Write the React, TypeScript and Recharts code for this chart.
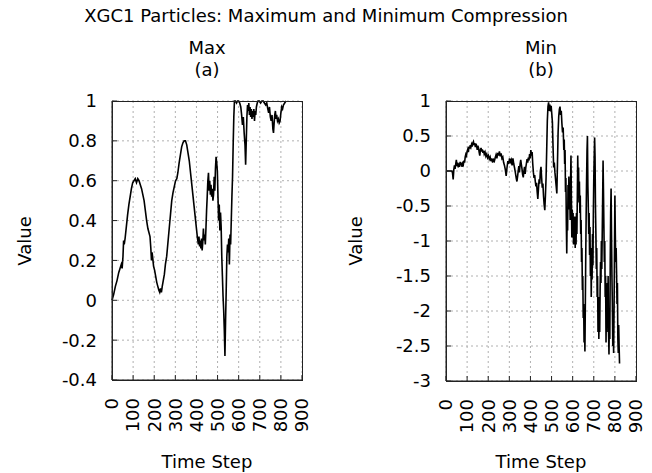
import { LineChart, Line, XAxis, YAxis, CartesianGrid } from "recharts";

const timeTicks = [0, 100, 200, 300, 400, 500, 600, 700, 800, 900];
const maxTicks = [-0.4, -0.2, 0, 0.2, 0.4, 0.6, 0.8, 1];
const minTicks = [-3, -2.5, -2, -1.5, -1, -0.5, 0, 0.5, 1];

// Max compression (a)
const maxSteps = [
  0, 8, 16, 24, 32, 38, 44, 48, 52, 55, 58, 62, 68, 74, 80, 86, 92, 98, 104, 110,
  116, 122, 128, 134, 140, 146, 152, 158, 164, 170, 175, 180, 184, 187, 190, 193, 197, 202, 207, 212,
  217, 222, 226, 230, 234, 238, 243, 248, 253, 259, 265, 271, 277, 283, 289, 295, 301, 307, 312, 318,
  324, 330, 336, 342, 348, 354, 360, 366, 372, 378, 384, 390, 396, 401, 405, 409, 412, 415, 418, 421,
  424, 427, 430, 433, 436, 439, 442, 445, 448, 451, 454, 457, 460, 463, 466, 469, 472, 475, 478, 481,
  484, 487, 490, 493, 496, 499, 502, 505, 508, 511, 514, 517, 520, 523, 526, 529, 532, 535, 538, 541,
  544, 547, 550, 553, 556, 559, 562, 565, 568, 571, 574, 577, 580, 585, 590, 595, 600, 605, 610, 614,
  618, 622, 626, 630, 633, 636, 639, 642, 645, 648, 651, 654, 657, 660, 663, 666, 669, 672, 675, 678,
  681, 684, 688, 692, 698, 704, 710, 716, 722, 728, 733, 738, 742, 746, 750, 754, 758, 762, 765, 768,
  771, 774, 777, 780, 784, 788, 792, 796, 800, 804, 808, 812, 818, 824,
];
const maxValues = [
  0.0, 0.03, 0.07, 0.1, 0.14, 0.16, 0.18, 0.16, 0.22, 0.3, 0.28, 0.31, 0.37, 0.43, 0.48, 0.52, 0.56, 0.59, 0.6, 0.61,
  0.59, 0.61, 0.6, 0.58, 0.56, 0.53, 0.5, 0.45, 0.4, 0.36, 0.34, 0.32, 0.26, 0.2, 0.24, 0.21, 0.17, 0.15, 0.12, 0.09,
  0.07, 0.05, 0.04, 0.06, 0.04, 0.07, 0.1, 0.13, 0.18, 0.22, 0.29, 0.36, 0.43, 0.5, 0.54, 0.57, 0.6, 0.61, 0.64, 0.69,
  0.73, 0.77, 0.79, 0.8, 0.8, 0.78, 0.74, 0.7, 0.64, 0.58, 0.52, 0.46, 0.4, 0.35, 0.31, 0.28, 0.32, 0.27, 0.3, 0.26,
  0.31, 0.25, 0.29, 0.36, 0.3, 0.33, 0.28, 0.36, 0.45, 0.52, 0.6, 0.64, 0.55, 0.6, 0.53, 0.58, 0.52, 0.56, 0.5, 0.53,
  0.62, 0.55, 0.66, 0.72, 0.69, 0.65, 0.52, 0.4, 0.48, 0.35, 0.44, 0.37, 0.22, 0.12, 0.02, -0.05, -0.15, -0.28, -0.1, 0.05,
  0.22, 0.28, 0.24, 0.31, 0.18, 0.33, 0.28, 0.4, 0.52, 0.62, 0.78, 0.92, 1.0, 1.0, 0.99, 1.0, 1.0, 0.99, 0.97, 0.93,
  0.88, 0.92, 0.84, 0.78, 0.68, 0.8, 0.92, 0.98, 0.95, 0.99, 0.93, 0.97, 0.92, 0.96, 0.91, 0.95, 0.92, 0.96, 0.9, 0.95,
  0.93, 0.97, 0.99, 1.0, 1.0, 0.99, 1.0, 1.0, 0.99, 0.98, 0.99, 0.96, 0.94, 0.97, 0.92, 0.9, 0.93, 0.86, 0.84, 0.89,
  0.93, 0.95, 0.91, 0.93, 0.9, 0.91, 0.89, 0.9, 0.94, 0.97, 0.96, 0.98, 0.99, 1.0,
];

// Min compression (b)
const minSteps = [
  0, 10, 20, 28, 31, 34, 37, 40, 43, 46, 49, 52, 55, 58, 61, 64, 67, 70, 73, 76,
  79, 82, 85, 88, 91, 94, 97, 100, 103, 106, 109, 112, 115, 118, 121, 124, 127, 130, 133, 136,
  139, 142, 145, 148, 151, 154, 157, 160, 163, 166, 169, 172, 175, 178, 181, 185, 189, 193, 197, 201,
  205, 209, 213, 217, 221, 225, 229, 233, 237, 241, 245, 249, 253, 257, 261, 265, 269, 273, 277, 281,
  285, 289, 293, 297, 301, 305, 309, 313, 317, 321, 325, 329, 333, 336, 339, 342, 345, 348, 351, 354,
  357, 360, 363, 366, 369, 372, 375, 378, 381, 384, 387, 390, 393, 396, 399, 402, 405, 408, 411, 414,
  417, 420, 423, 426, 429, 432, 435, 438, 441, 444, 447, 450, 453, 456, 459, 462, 465, 468, 471, 474,
  477, 480, 483, 486, 489, 492, 495, 498, 501, 504, 507, 510, 513, 516, 519, 522, 525, 528, 531, 534,
  537, 540, 543, 546, 549, 552, 555, 558, 560, 562, 564, 566, 568, 570, 572, 574, 576, 578, 580, 582,
  584, 586, 588, 590, 592, 594, 596, 598, 600, 602, 604, 606, 608, 610, 612, 614, 616, 618, 620, 622,
  624, 626, 628, 630, 632, 634, 636, 638, 640, 642, 644, 646, 648, 650, 652, 654, 656, 658, 660, 662,
  664, 666, 668, 670, 672, 674, 676, 678, 680, 682, 684, 686, 688, 690, 692, 694, 696, 698, 700, 702,
  704, 706, 708, 710, 712, 714, 716, 718, 720, 722, 724, 726, 728, 730, 732, 734, 736, 738, 740, 742,
  744, 746, 748, 750, 752, 754, 756, 758, 760, 762, 764, 766, 768, 770, 772, 774, 776, 778, 780, 782,
  784, 786, 788, 790, 792, 794, 796, 798, 800, 802, 804, 806, 808, 810, 812, 814, 816, 818, 820, 822,
];
const minValues = [
  0.0, 0.0, 0.0, 0.0, -0.03, -0.12, 0.02, 0.08, 0.03, 0.1, 0.16, 0.07, 0.12, 0.05, 0.11, 0.06, 0.13, 0.08, 0.12, 0.06,
  0.11, 0.09, 0.15, 0.12, 0.2, 0.24, 0.22, 0.28, 0.31, 0.27, 0.35, 0.32, 0.37, 0.34, 0.38, 0.35, 0.4, 0.42, 0.37, 0.4,
  0.34, 0.39, 0.36, 0.3, 0.36, 0.33, 0.27, 0.22, 0.3, 0.33, 0.28, 0.31, 0.26, 0.29, 0.24, 0.27, 0.21, 0.24, 0.19, 0.22,
  0.17, 0.2, 0.14, 0.18, 0.12, 0.16, 0.14, 0.19, 0.23, 0.18, 0.26, 0.22, 0.28, 0.21, 0.25, 0.18, 0.2, 0.12, 0.08, 0.02,
  -0.07, 0.05, 0.14, 0.1, 0.18, 0.13, 0.16, 0.08, 0.18, 0.1, 0.04, -0.03, -0.11, -0.15, -0.08, 0.0, 0.07, -0.02, 0.1, 0.16,
  0.09, 0.03, -0.05, -0.09, 0.0, 0.06, -0.04, 0.05, 0.11, 0.17, 0.12, 0.19, 0.15, 0.24, 0.18, 0.3, 0.22, 0.27, 0.1, -0.02,
  -0.1, -0.06, -0.15, -0.22, -0.17, -0.3, -0.4, -0.25, -0.12, -0.18, 0.0, 0.06, -0.1, -0.24, -0.18, -0.36, -0.48, -0.56, -0.35, -0.1,
  0.3, 0.72, 0.92, 0.98, 0.86, 0.95, 0.85, 0.93, 0.82, 0.7, 0.35, 0.05, 0.12, -0.02, -0.12, -0.22, -0.32, 0.1, 0.55, 0.78,
  0.88, 0.92, 0.8, 0.86, 0.68, 0.55, 0.62, 0.3, 0.45, 0.1, 0.3, -0.3, -0.1, -0.75, -1.18, -0.6, -0.85, -0.2, -0.45, -0.08,
  -0.55, -0.3, -0.7, -0.15, 0.22, -0.4, -0.95, -0.55, -0.85, -0.6, -1.05, -0.7, -1.0, -0.65, -1.1, -0.75, -1.05, -0.6, -0.9, -0.4,
  0.22, -0.2, 0.05, -0.45, -0.15, -0.6, -0.35, -0.9, -0.7, -1.3, -1.1, -1.7, -1.5, -2.1, -1.9, -2.45, -2.2, -2.58, -1.9, -1.2,
  -0.6, -0.1, 0.3, 0.5, -0.2, -0.5, -0.9, -0.6, -1.2, -0.8, -1.5, -1.1, -1.8, -1.2, -1.55, -0.9, -1.35, -0.6, -0.1, 0.2,
  0.48, 0.2, -0.5, -0.9, -1.4, -1.1, -1.8, -1.5, -2.3, -1.8, -2.4, -1.9, -2.3, -1.7, -1.3, -1.6, -1.0, -1.4, -0.9, -0.4,
  0.15, -0.3, -0.8, -1.3, -1.0, -1.8, -1.5, -2.45, -1.9, -2.3, -1.6, -2.1, -1.5, -2.3, -2.62, -2.0, -2.4, -1.3, -0.6, -0.25,
  -0.9, -1.5, -1.9, -2.5, -2.2, -2.6, -2.0, -1.2, -0.35, -0.9, -1.3, -1.1, -1.45, -1.9, -1.6, -2.4, -2.6, -2.2, -2.5, -2.75,
];

const maxData = maxSteps.map((t, i) => ({ t, v: maxValues[i] }));
const minData = minSteps.map((t, i) => ({ t, v: minValues[i] }));

const FONT = "DejaVu Sans";
const FRAME = "#222";
const PANEL_W = 326;
const PANEL_H = 473;
const X_AXIS_H = 40;
const tickStyle = { fontSize: 18, fill: "#000", fontFamily: FONT };

const RotatedTick = (props: any) => {
  const { x, y, payload } = props;
  return (
    <text
      x={x}
      y={y}
      transform={`rotate(-90, ${x}, ${y})`}
      textAnchor="end"
      dy="0.35em"
      fontSize={18}
      fontFamily={FONT}
      fill="#000"
    >
      {payload.value}
    </text>
  );
};

function Panel({ data, ticks, domain, yWidth, margin, left }: any) {
  // plot box follows from the same margins the chart uses
  const plotLeft = yWidth + margin.left;
  const plotTop = margin.top;
  const plotW = PANEL_W - plotLeft - margin.right;
  const plotH = PANEL_H - margin.top - margin.bottom - X_AXIS_H;
  return (
    <div style={{ position: "absolute", left, top: 0, width: PANEL_W, height: PANEL_H }}>
      <LineChart width={PANEL_W} height={PANEL_H} data={data} margin={margin}>
        <CartesianGrid stroke="#b0b0b0" strokeDasharray="2 3" />
        <XAxis
          dataKey="t"
          type="number"
          domain={[0, 900]}
          ticks={timeTicks}
          height={X_AXIS_H}
          stroke={FRAME}
          tickSize={-5}
          tickMargin={23}
          tick={<RotatedTick />}
          interval={0}
        />
        <YAxis
          type="number"
          domain={domain}
          ticks={ticks}
          width={yWidth}
          stroke={FRAME}
          tickSize={-5}
          tickMargin={20}
          tick={tickStyle}
          interval={0}
        />
        <Line type="linear" dataKey="v" stroke="#000" strokeWidth={1.6} dot={false} isAnimationActive={false} />
      </LineChart>
      <div
        style={{
          position: "absolute",
          left: plotLeft - 0.5,
          top: plotTop - 0.5,
          width: plotW + 1,
          height: plotH + 1,
          border: `1px solid ${FRAME}`,
          boxSizing: "border-box",
          pointerEvents: "none",
        }}
      />
    </div>
  );
}

export default function App() {
  const textProps = { fontSize: 18, fontFamily: FONT, fill: "#000", textAnchor: "middle" as const };
  return (
    <div style={{ position: "absolute", left: 0, top: 0, width: 652, height: 473, background: "#fff" }}>
      <Panel left={0} data={maxData} ticks={maxTicks} domain={[-0.4, 1]} yWidth={112} margin={{ top: 101, right: 24, bottom: 53, left: 0 }} />
      <Panel left={326} data={minData} ticks={minTicks} domain={[-3, 1]} yWidth={120} margin={{ top: 101, right: 16, bottom: 52, left: 0 }} />
      <svg width={652} height={473} style={{ position: "absolute", left: 0, top: 0, pointerEvents: "none" }}>
        <text x={326} y={22} {...textProps}>XGC1 Particles: Maximum and Minimum Compression</text>
        <text x={207} y={54} {...textProps}>Max</text>
        <text x={207} y={76} {...textProps}>(a)</text>
        <text x={541} y={54} {...textProps}>Min</text>
        <text x={541} y={76} {...textProps}>(b)</text>
        <text x={25} y={241} dy="0.35em" transform="rotate(-90, 25, 241)" {...textProps}>Value</text>
        <text x={356} y={241} dy="0.35em" transform="rotate(-90, 356, 241)" {...textProps}>Value</text>
        <text x={207} y={468} {...textProps}>Time Step</text>
        <text x={541} y={468} {...textProps}>Time Step</text>
      </svg>
    </div>
  );
}
